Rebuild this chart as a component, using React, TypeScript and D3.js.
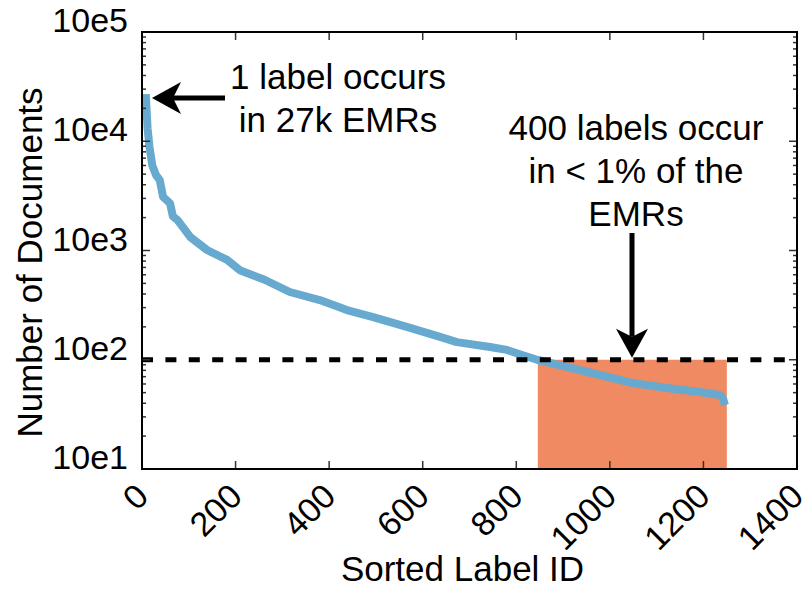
import React from "react";
import * as d3 from "d3";

const ranks = [8, 12, 16, 22, 30, 38, 45, 60, 66, 76, 103, 139, 182, 209, 262, 316, 380, 438, 494, 566, 637, 673, 744, 780, 814, 846, 908, 979, 1049, 1122, 1192, 1235, 1242, 1246];
const counts = [27000, 13000, 8900, 6000, 4900, 4400, 3100, 2700, 2050, 1900, 1330, 1010, 820, 660, 540, 417, 352, 285, 246, 200, 162, 145, 131, 123, 110, 99.5, 86, 72.5, 61.2, 55.1, 50.7, 47.5, 44, 38.5];

const xTicks = [0, 200, 400, 600, 800, 1000, 1200, 1400];
const yTicks = [10, 100, 1000, 10000, 100000];
const yTickLabels = ["10e1", "10e2", "10e3", "10e4", "10e5"];
const thresholdValue = 100;
const rareRange = [846, 1250];
const topNote = ["1 label occurs", "in 27k EMRs"];
const rareNote = ["400 labels occur", "in < 1% of the", "EMRs"];

const W = 807, H = 590;
const M = { left: 142, right: 797, top: 32, bottom: 469 };
const FONT = "'Liberation Sans', Arial, Helvetica, sans-serif";

export default function App() {
  const x = d3.scaleLinear().domain([0, 1400]).range([M.left, M.right]);
  const y = d3.scaleLog().domain([10, 100000]).range([M.bottom, M.top]);
  const line = d3.line<number>().x((_, i) => x(ranks[i])).y((d) => y(d));
  const minor: number[] = [];
  for (let e = 1; e < 5; e++) for (let k = 2; k <= 9; k++) minor.push(k * Math.pow(10, e));

  const tickColor = "#333";
  const a1y = 98;
  const tipX = 152;
  const head1 = `M${tipX},${a1y} L${tipX + 29},${a1y - 16} L${tipX + 21},${a1y} L${tipX + 29},${a1y + 16} Z`;
  const a2x = 632;
  const a2tip = y(thresholdValue) - 2;
  const head2 = `M${a2x},${a2tip} L${a2x - 16},${a2tip - 29} L${a2x},${a2tip - 21} L${a2x + 16},${a2tip - 29} Z`;

  return (
    <svg width={W} height={H} style={{ position: "absolute", left: 0, top: 0, background: "#fff" }} fontFamily={FONT}>
      <rect x={x(rareRange[0])} y={y(thresholdValue)} width={x(rareRange[1]) - x(rareRange[0])} height={y(10) - y(thresholdValue)} fill="#EF8A62" />
      <path d={line(counts) || ""} fill="none" stroke="#67A9CF" strokeWidth={8} strokeLinejoin="round" />
      <line x1={M.left} x2={M.right} y1={y(thresholdValue)} y2={y(thresholdValue)} stroke="#000" strokeWidth={5} strokeDasharray="11,12.4" />
      {yTicks.map((t) => (
        <g key={"y" + t}>
          <line x1={M.left} x2={M.left + 8} y1={y(t)} y2={y(t)} stroke={tickColor} strokeWidth={1.5} />
          <line x1={M.right} x2={M.right - 8} y1={y(t)} y2={y(t)} stroke={tickColor} strokeWidth={1.5} />
        </g>
      ))}
      {minor.map((t) => (
        <g key={"m" + t}>
          <line x1={M.left} x2={M.left + 4} y1={y(t)} y2={y(t)} stroke={tickColor} strokeWidth={1.5} />
          <line x1={M.right} x2={M.right - 4} y1={y(t)} y2={y(t)} stroke={tickColor} strokeWidth={1.5} />
        </g>
      ))}
      {xTicks.map((t) => (
        <g key={"x" + t}>
          <line x1={x(t)} x2={x(t)} y1={M.bottom} y2={M.bottom - 8} stroke={tickColor} strokeWidth={1.5} />
          <line x1={x(t)} x2={x(t)} y1={M.top} y2={M.top + 8} stroke={tickColor} strokeWidth={1.5} />
        </g>
      ))}
      <rect x={M.left} y={M.top} width={M.right - M.left} height={M.bottom - M.top} fill="none" stroke="#000" strokeWidth={2} />
      {yTicks.map((t, i) => (
        <text key={"yl" + t} x={M.left - 14} y={y(t) - 0} textAnchor="end" fontSize={34} fill="#000">{yTickLabels[i]}</text>
      ))}
      {xTicks.map((t) => (
        <text key={"xl" + t} transform={`translate(${x(t)},${490}) rotate(-45)`} textAnchor="end" dominantBaseline="central" fontSize={34} fill="#000">{t}</text>
      ))}
      <text x={(M.left + M.right) / 2 - 7} y={581} textAnchor="middle" fontSize={35} fill="#000">Sorted Label ID</text>
      <text transform={`translate(42,${(M.top + M.bottom) / 2 + 12}) rotate(-90)`} textAnchor="middle" fontSize={35} fill="#000">Number of Documents</text>
      <rect x={tipX + 21} y={a1y - 2.5} width={225 - tipX - 21} height={5} fill="#000" />
      <path d={head1} fill="#000" />
      {topNote.map((s, i) => (
        <text key={s} x={338} y={89 + i * 43} textAnchor="middle" fontSize={35} fill="#000">{s}</text>
      ))}
      <rect x={a2x - 2.5} y={233} width={5} height={a2tip - 21 - 233} fill="#000" />
      <path d={head2} fill="#000" />
      {rareNote.map((s, i) => (
        <text key={s} x={636} y={140 + i * 43} textAnchor="middle" fontSize={35} fill="#000">{s}</text>
      ))}
    </svg>
  );
}
